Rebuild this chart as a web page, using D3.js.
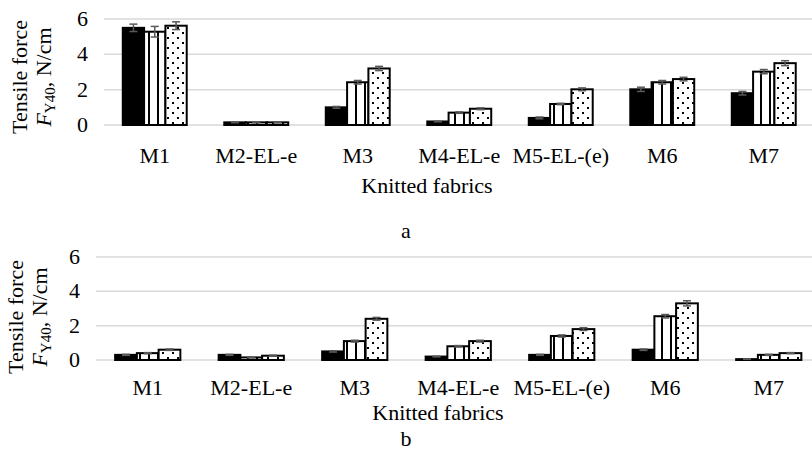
<!DOCTYPE html>
<html>
<head>
<meta charset="utf-8">
<script src="https://cdn.jsdelivr.net/npm/d3@7"></script>
<style>
  body { margin: 0; background: #fff; }
  svg { display: block; }
  text { font-family: "Liberation Serif", "Times New Roman", serif; fill: #000; }
</style>
</head>
<body>
<svg id="chart" width="812" height="452"></svg>
<script>
// categories and tick labels
var categories = ["M1", "M2-EL-e", "M3", "M4-EL-e", "M5-EL-(e)", "M6", "M7"];
var yTicks = [0, 2, 4, 6];

// panel a values (N/cm)
var aSolid  = [5.50, 0.15, 1.00, 0.20, 0.40, 2.02, 1.80];
var aStripe = [5.28, 0.15, 2.42, 0.70, 1.19, 2.42, 3.02];
var aDots   = [5.62, 0.15, 3.20, 0.92, 2.02, 2.60, 3.50];
var aSolidErr  = [0.21, 0.02, 0.05, 0.02, 0.05, 0.12, 0.10];
var aStripeErr = [0.30, 0.02, 0.10, 0.04, 0.04, 0.10, 0.12];
var aDotsErr   = [0.22, 0.02, 0.12, 0.05, 0.08, 0.10, 0.14];

// panel b values (N/cm)
var bSolid  = [0.30, 0.30, 0.50, 0.20, 0.30, 0.60, 0.05];
var bStripe = [0.40, 0.15, 1.10, 0.80, 1.40, 2.55, 0.30];
var bDots   = [0.60, 0.25, 2.40, 1.10, 1.80, 3.30, 0.40];
var bSolidErr  = [0.03, 0.03, 0.04, 0.02, 0.03, 0.04, 0.01];
var bStripeErr = [0.03, 0.02, 0.05, 0.04, 0.06, 0.10, 0.03];
var bDotsErr   = [0.04, 0.03, 0.08, 0.05, 0.08, 0.15, 0.03];

var svg = d3.select("#chart");

/*
** fill patterns
 */
var defs = svg.append("defs");

var stripe = defs.append("pattern")
    .attr("id", "stripe")
    .attr("patternUnits", "userSpaceOnUse")
    .attr("width", 9).attr("height", 9);
stripe.append("rect").attr("width", 9).attr("height", 9).attr("fill", "#fff");
stripe.append("rect").attr("x", 4).attr("width", 2).attr("height", 9).attr("fill", "#000");

var dots = defs.append("pattern")
    .attr("id", "dots")
    .attr("patternUnits", "userSpaceOnUse")
    .attr("width", 10).attr("height", 10);
dots.append("rect").attr("width", 10).attr("height", 10).attr("fill", "#fff");
dots.append("rect").attr("x", 2).attr("y", 2).attr("width", 2).attr("height", 2).attr("fill", "#000");
dots.append("rect").attr("x", 7).attr("y", 7).attr("width", 2).attr("height", 2).attr("fill", "#000");

var seriesStyle = [
    { fill: "#000", stroke: "#000" },
    { fill: "url(#stripe)", stroke: "#000" },
    { fill: "url(#dots)", stroke: "#000" }
];

function drawPanel(p) {
    var g = svg.append("g");

    var x = d3.scaleBand().domain(categories).range([p.left, p.right]).paddingInner(0).paddingOuter(0);
    var y = d3.scaleLinear().domain([0, 6]).range([p.zero, p.top]);
    var groupW = x.bandwidth() * 0.63;
    var xs = d3.scaleBand().domain([0, 1, 2]).range([0, groupW]);

    // gridlines
    g.selectAll(".grid").data(yTicks).enter().append("line")
        .attr("x1", p.left).attr("x2", p.right)
        .attr("y1", function (d) { return y(d); })
        .attr("y2", function (d) { return y(d); })
        .attr("stroke", "#d9d9d9")
        .attr("stroke-width", 1.5);

    // y tick labels
    g.selectAll(".ytick").data(yTicks).enter().append("text")
        .attr("x", p.tickX)
        .attr("y", function (d) { return y(d) + 7; })
        .attr("text-anchor", "end")
        .attr("font-size", 22)
        .text(function (d) { return d; });

    // bars
    p.series.forEach(function (vals, si) {
        var errs = p.errors[si];
        var sg = g.append("g");
        sg.selectAll("rect").data(vals).enter().append("rect")
            .attr("x", function (d, i) { return x(categories[i]) + (x.bandwidth() - groupW) / 2 + xs(si); })
            .attr("y", function (d) { return y(d); })
            .attr("width", xs.bandwidth())
            .attr("height", function (d) { return y(0) - y(d); })
            .attr("fill", seriesStyle[si].fill)
            .attr("stroke", seriesStyle[si].stroke)
            .attr("stroke-width", 2);

        // error bars
        var eg = sg.selectAll(".err").data(vals).enter().append("g")
            .attr("transform", function (d, i) {
                return "translate(" + (x(categories[i]) + (x.bandwidth() - groupW) / 2 + xs(si) + xs.bandwidth() / 2) + ",0)";
            });
        eg.append("line")
            .attr("y1", function (d, i) { return y(d + errs[i]); })
            .attr("y2", function (d, i) { return y(Math.max(0, d - errs[i])); })
            .attr("stroke", "#595959").attr("stroke-width", 1.5);
        eg.append("line")
            .attr("x1", -4).attr("x2", 4)
            .attr("y1", function (d, i) { return y(d + errs[i]); })
            .attr("y2", function (d, i) { return y(d + errs[i]); })
            .attr("stroke", "#595959").attr("stroke-width", 1.5);
        eg.append("line")
            .attr("x1", -4).attr("x2", 4)
            .attr("y1", function (d, i) { return y(Math.max(0, d - errs[i])); })
            .attr("y2", function (d, i) { return y(Math.max(0, d - errs[i])); })
            .attr("stroke", "#595959").attr("stroke-width", 1.5);
    });

    // category labels
    g.selectAll(".xtick").data(categories).enter().append("text")
        .attr("x", function (d) { return x(d) + x.bandwidth() / 2; })
        .attr("y", p.catY)
        .attr("text-anchor", "middle")
        .attr("font-size", 22)
        .text(function (d) { return d; });

    // axis title
    g.append("text")
        .attr("x", p.xTitleX).attr("y", p.xTitleY)
        .attr("text-anchor", "middle")
        .attr("font-size", 22)
        .text("Knitted fabrics");

    // y axis title, two lines
    var yt = g.append("text")
        .attr("transform", "translate(" + p.yTitleX + "," + p.yTitleY + ") rotate(-90)")
        .attr("text-anchor", "middle")
        .attr("font-size", 22);
    yt.append("tspan").attr("x", 0).attr("y", 0).text("Tensile force");
    var l2 = g.append("text")
        .attr("transform", "translate(" + (p.yTitleX + 24) + "," + p.yTitleY + ") rotate(-90)")
        .attr("text-anchor", "middle")
        .attr("font-size", 22);
    l2.append("tspan").attr("font-style", "italic").text("F");
    l2.append("tspan").attr("font-size", 15).attr("dy", 4).text("Y40");
    l2.append("tspan").attr("dy", -4).text(", N/cm");

    // panel letter
    g.append("text")
        .attr("x", 406).attr("y", p.letterY)
        .attr("text-anchor", "middle")
        .attr("font-size", 22)
        .text(p.letter);
}

drawPanel({
    left: 104, right: 814.5, top: 19, zero: 125,
    tickX: 88, catY: 163, xTitleX: 427, xTitleY: 193,
    yTitleX: 27, yTitleY: 77, letter: "a", letterY: 238,
    series: [aSolid, aStripe, aDots],
    errors: [aSolidErr, aStripeErr, aDotsErr]
});

drawPanel({
    left: 96, right: 820.5, top: 257, zero: 360,
    tickX: 80, catY: 395, xTitleX: 438, xTitleY: 420,
    yTitleX: 23, yTitleY: 317, letter: "b", letterY: 446,
    series: [bSolid, bStripe, bDots],
    errors: [bSolidErr, bStripeErr, bDotsErr]
});
</script>
</body>
</html>
